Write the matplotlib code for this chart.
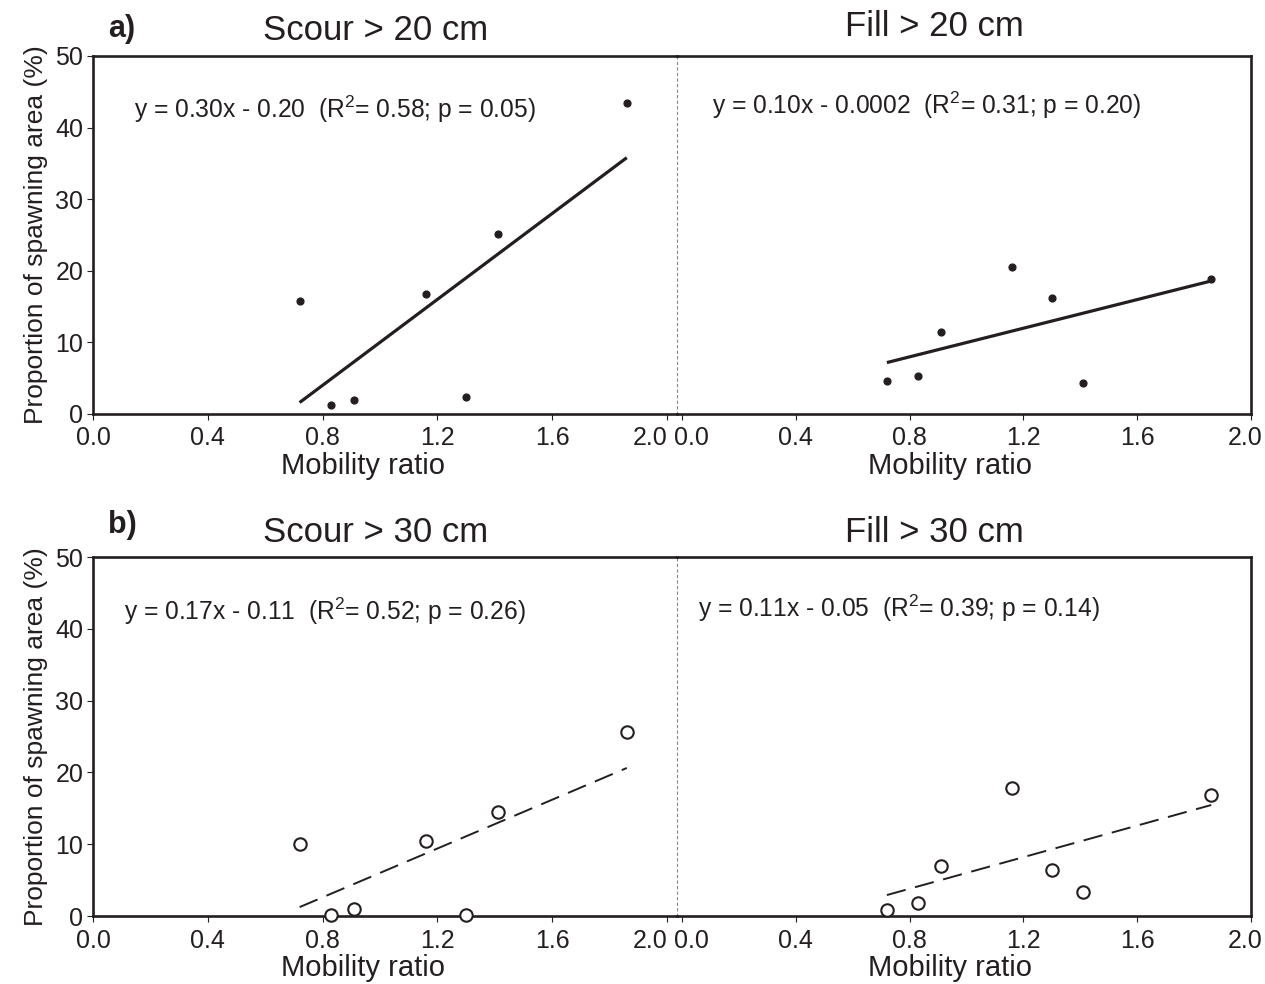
import numpy as np
import matplotlib.pyplot as plt
import matplotlib.transforms as mtransforms

plt.rcParams['font.family'] = ['Liberation Sans', 'DejaVu Sans']
plt.rcParams['mathtext.fontset'] = 'custom'
plt.rcParams['mathtext.rm'] = 'Liberation Sans'

# Mobility ratio of the seven sites (same for every panel)
mobility = [0.72, 0.83, 0.91, 1.16, 1.30, 1.41, 1.86]

# Proportion of spawning area (%)
scour20 = [15.8, 1.2, 2.0, 16.8, 2.4, 25.1, 43.4]
fill20 = [4.6, 5.3, 11.5, 20.5, 16.2, 4.3, 18.9]
scour30 = [10.0, 0.2, 1.0, 10.4, 0.1, 14.5, 25.6]
fill30 = [0.8, 1.8, 7.0, 17.8, 6.4, 3.3, 16.9]

# regression coefficients (fraction units) printed on the chart
fit_scour20 = (0.30, -0.20)
fit_fill20 = (0.10, -0.0002)
fit_scour30 = (0.17, -0.11)
fit_fill30 = (0.11, -0.05)

eq_scour20 = r'y = 0.30x - 0.20  (R$^\mathregular{2}$= 0.58; p = 0.05)'
eq_fill20 = r'y = 0.10x - 0.0002  (R$^\mathregular{2}$= 0.31; p = 0.20)'
eq_scour30 = r'y = 0.17x - 0.11  (R$^\mathregular{2}$= 0.52; p = 0.26)'
eq_fill30 = r'y = 0.11x - 0.05  (R$^\mathregular{2}$= 0.39; p = 0.14)'

xticks = [0.0, 0.4, 0.8, 1.2, 1.6, 2.0]
yticks = [0, 10, 20, 30, 40, 50]

fig = plt.figure(figsize=(12.65, 9.84), dpi=100)

rows = [
    dict(bottom=0.5793, height=0.3638, tag='a)', filled=True,
         tag_y=1.053, title_y=(1.045, 1.056), eq_pos=((0.07, 0.827), (0.061, 0.838)),
         xlab_y=-0.105,
         panels=[('Scour > 20 cm', scour20, fit_scour20, eq_scour20),
                 ('Fill > 20 cm', fill20, fit_fill20, eq_fill20)]),
    dict(bottom=0.0691, height=0.3648, tag='b)', filled=False,
         tag_y=1.067, title_y=(1.042, 1.042), eq_pos=((0.053, 0.825), (0.037, 0.833)),
         xlab_y=-0.105,
         panels=[('Scour > 30 cm', scour30, fit_scour30, eq_scour30),
                 ('Fill > 30 cm', fill30, fit_fill30, eq_fill30)]),
]

ink = '#231f20'
lw_frame = 1.9
for r, row in enumerate(rows):
    axL = fig.add_axes([0.0735, row['bottom'], 0.4617, row['height']])
    axR = fig.add_axes([0.5352, row['bottom'], 0.4538, row['height']])
    axR.patch.set_visible(False)
    axL.set_xlim(0, 2.035)
    axR.set_xlim(-0.0176, 2.0)

    for k, ax in enumerate([axL, axR]):
        title, vals, fit, eq = row['panels'][k]
        ax.set_ylim(0, 50)
        ax.set_xticks(xticks)
        ax.set_xticklabels(['%.1f' % t for t in xticks])
        ax.tick_params(axis='x', direction='out', length=4, width=0.8,
                       labelsize=18, pad=5, colors=ink)
        for s in ['top', 'bottom', 'left', 'right']:
            ax.spines[s].set_linewidth(lw_frame)
            ax.spines[s].set_color(ink)

        if row['filled']:
            ax.scatter(mobility, vals, s=24, color=ink, zorder=3)
        else:
            ax.scatter(mobility, vals, s=80, facecolors='white',
                       edgecolors=ink, linewidths=1.5, zorder=3, clip_on=False)

        x = np.array([min(mobility), max(mobility)])
        y = 100 * (fit[0] * x + fit[1])
        if row['filled']:
            ax.plot(x, y, color=ink, lw=2.3, solid_capstyle='butt')
        else:
            ax.plot(x, y, color=ink, lw=1.4, dashes=(10, 5))

        ax.set_xlabel('Mobility ratio', fontsize=21, color=ink)

        ax.text(0.483 if k == 0 else 0.449, row['title_y'][k], title,
                transform=ax.transAxes, ha='center', va='baseline',
                fontsize=25, color=ink)
        ex, ey = row['eq_pos'][k]
        ax.text(ex, ey, eq, transform=ax.transAxes, ha='left', va='baseline',
                fontsize=17.7, color=ink)

    axL.xaxis.set_label_coords(0.462, row['xlab_y'])
    axR.xaxis.set_label_coords(0.476, row['xlab_y'])

    # nudge the crowded labels where the two panels meet
    labsL = axL.get_xticklabels()
    labsR = axR.get_xticklabels()
    for lab, dx in [(labsL[-1], -17), (labsR[0], 9), (labsR[-1], -6)]:
        lab.set_transform(lab.get_transform() +
                          mtransforms.ScaledTranslation(dx / 100, 0, fig.dpi_scale_trans))

    axL.set_yticks(yticks)
    axL.tick_params(axis='y', direction='out', length=4, width=0.8,
                    labelsize=18, pad=3, colors=ink)
    axL.set_ylabel('Proportion of spawning area (%)', fontsize=19,
                   labelpad=5, color=ink)
    axR.set_yticks([])

    axL.spines['right'].set_linestyle((0, (2, 3)))
    axL.spines['right'].set_linewidth(0.8)
    axL.spines['right'].set_color('#888888')
    axR.spines['left'].set_visible(False)

    axL.text(0.026, row['tag_y'], row['tag'], transform=axL.transAxes,
             ha='left', va='baseline', fontsize=22, fontweight='bold', color=ink)

fig.savefig('out.png', dpi=100)
